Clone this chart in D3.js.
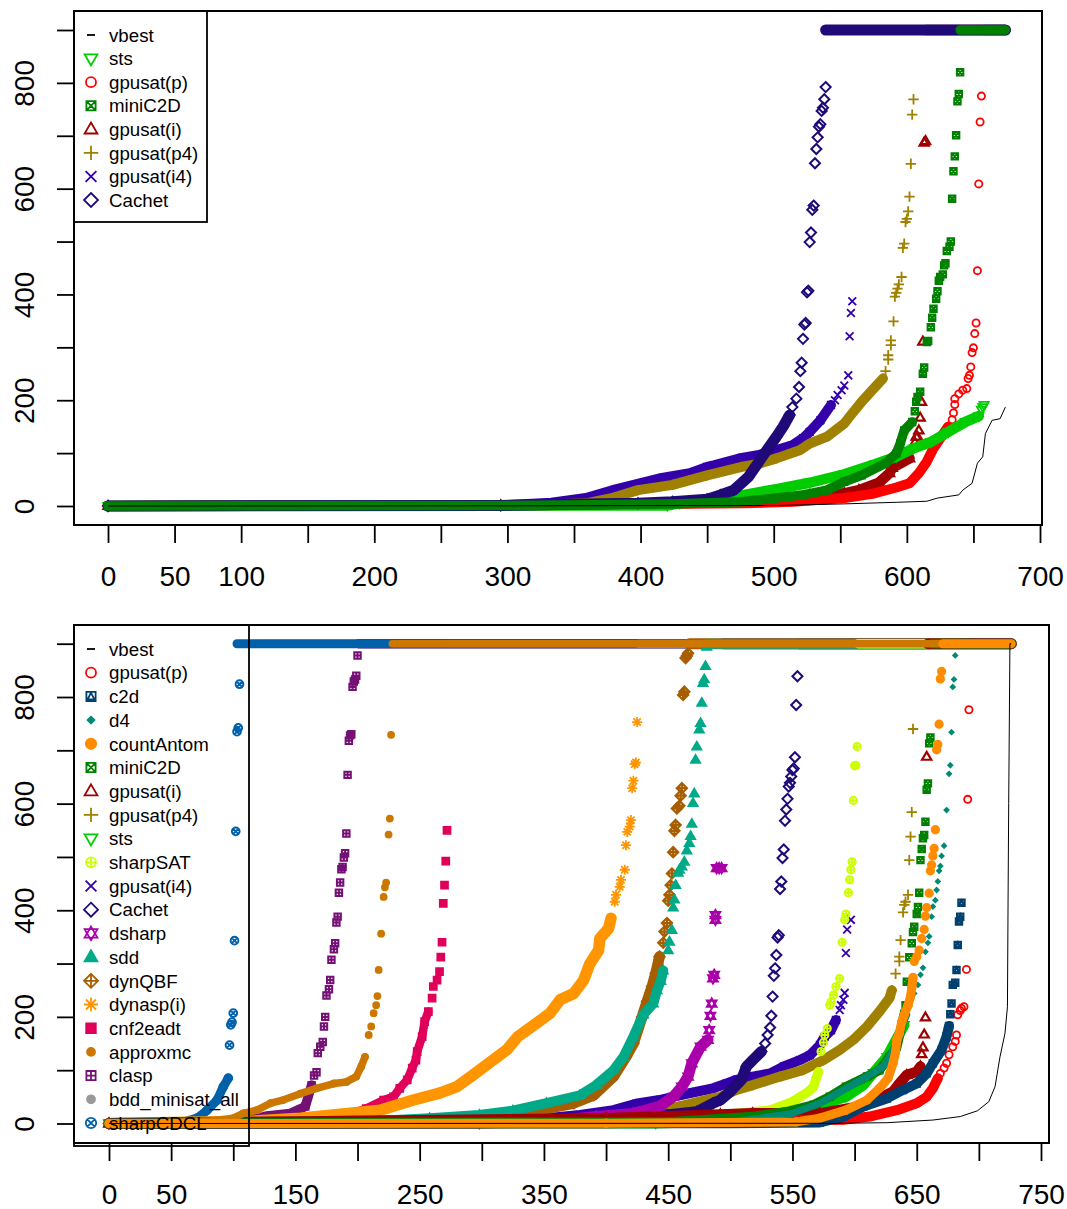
<!DOCTYPE html>
<html>
<head>
<meta charset="utf-8">
<title>Solver cactus plots</title>
<script src="https://cdn.jsdelivr.net/npm/d3@7"></script>
<style>
  html, body { margin: 0; background: #fff; }
  svg { display: block; }
  text { font-family: "Liberation Sans", Arial, sans-serif; fill: #000; }
</style>
</head>
<body>
<svg id="chart" width="1067" height="1209"></svg>
<script>
// ─── Data: [rank, seconds]; *Band = dense runs, *Pts = separately readable points ───
const topVbest = [[0,0],[300,0.3],[502,1],[553,4],[592,7],[615,9],[623,15],[639,21],[642,30],[649,43],[653,81],[657,93],[659,137],[664,162],[670,165],[674,187]];
const topStsBand = [[0,0],[420,1],[429,5],[450,12],[476,20],[502,32],[527,44],[553,60],[576,79],[592,93],[605,109],[618,121],[631,140],[644,159],[654,170]];
const topStsPts = [[656,182],[657,187],[658,191]];
const topPBand = [[0,0],[300,1],[476,5],[514,8],[553,15],[574,23],[592,35],[602,43],[609,62],[615,84],[620,109],[631,150]];
const topPPts = [[634,163],[635,176],[636,192],[636,203],[639,212],[642,219],[645,222],[646,241],[647,247],[648,263],[649,290],[650,299],[651,326],[652,346],[653,445],[654,609],[655,726],[656,775]];
const topMiniBand = [[0,0],[300,1],[424,4],[476,8],[502,15],[522,21],[540,30],[553,46],[566,58],[584,81],[592,99],[595,118],[598,143],[604,159]];
const topMiniPts = [[606,179],[607,197],[608,206],[610,216],[612,250],[613,262],[615,310],[616,312],[618,338],[619,356],[620,373],[622,392],[623,406],[624,426],[625,433],[627,438],[628,455],[629,459],[630,482],[632,490],[633,500],[634,581],[635,633],[636,661],[637,701],[638,765],[639,779],[640,820]];
const topIBand = [[0,0],[295,1],[398,4],[491,10],[527,15],[553,24],[564,30],[579,44],[587,62],[589,72],[602,90]];
const topIPts = [[606,120],[607,131],[608,131],[609,143],[610,167],[611,197],[612,311],[613,687],[614,690]];
const topP4Band = [[0,0],[320,2],[359,5],[380,16],[398,30],[424,40],[450,58],[476,74],[489,80],[502,90],[520,106],[527,118],[540,131],[553,156],[558,172],[566,197],[574,219],[582,241]];
const topP4Pts = [[584,255],[586,277],[586,285],[588,304],[588,313],[590,349],[591,396],[592,403],[593,411],[594,419],[596,433],[597,488],[598,496],[599,537],[600,543],[601,557],[602,585],[603,647],[604,740],[605,769]];
const topI4Band = [[0,0],[295,1],[333,6],[359,15],[382,32],[416,53],[437,62],[450,74],[455,77],[476,91],[488,96],[502,106],[514,115],[522,128],[527,140],[535,162],[543,191]];
const topI4Pts = [[546,200],[548,210],[551,219],[553,228],[556,247],[557,321],[558,365],[559,387]];
const topCachetBand = [[0,0],[295,1],[398,5],[424,8],[450,13],[460,21],[470,30],[481,55],[487,77],[495,106],[502,131],[507,150],[512,172]];
const topCachetPts = [[514,187],[517,203],[519,225],[520,255],[521,271],[522,316],[523,343],[524,346],[525,404],[526,407],[527,499],[528,517],[529,560],[530,568],[531,648],[532,675],[533,697],[534,717],[535,722],[536,747],[537,753],[538,769],[539,792]];
// rank where each solver starts timing out at 900 s
const topTimeoutFrom = { sts: 658, "gpusat(p)": 656, miniC2D: 640, "gpusat(i)": 614, "gpusat(p4)": 605, "gpusat(i4)": 559, Cachet: 539 };
const topLastRank = 674;

const botVbest = [[0,0],[585,0.4],[626,1.5],[663,6.5],[685,13],[699,24],[708,41],[713,69],[717,125],[721,169],[723,219],[723.5,419],[724,600],[725,900],[726,900]];
const botPBand = [[0,0],[400,0.5],[591,7],[612,13],[634,25],[650,38],[658,50],[663,66],[667,85]];
const botPPts = [[669,94],[672,104],[674,113],[676,129],[679,144],[681,154],[682,166],[683,204],[685,212],[686,216],[688,219],[690,289],[691,608],[692,776]];
const botC2dBand = [[0,0],[500,0.5],[572,2],[591,13],[607,32],[626,47],[639,63],[650,75],[658,94],[663,113],[670,138],[674,163],[676,183]];
const botC2dPts = [[677,205],[678,225],[679,260],[681,264],[682,288],[683,335],[684,379],[685,388],[686,414]];
const botD4Band = [[0,0],[500,2],[524,10],[550,19],[572,38],[591,63],[610,88],[623,107],[628,125],[634,150],[638,182],[642,204]];
const botD4Pts = [[644,219],[648,244],[651,260],[653,279],[655,292],[657,322],[659,339],[660,351],[662,388],[663,407],[665,419],[666,438],[667,454],[668,474],[669,483],[670,502],[672,521],[674,588],[676,656],[677,672],[678,734],[679,819],[680,833],[681,878]];
const botCountBand = [[0,0],[400,0.5],[553,3],[572,10],[593,25],[610,44],[620,66],[627,85],[631,113],[633,134],[634,157],[636,169],[638,191],[640,204],[643,222],[645,238],[646,254],[647,274]];
const botCountPts = [[648,304],[650,313],[652,325],[654,347],[656,364],[657,389],[658,405],[660,432],[661,474],[662,485],[663,502],[664,516],[665,551],[666,701],[667,711],[668,749],[669,834],[670,848]];
const botMiniBand = [[0,0],[450,3],[518,13],[545,22],[567,35],[580,50],[593,69],[610,88],[620,100],[628,125],[634,144],[640,206]];
const botMiniPts = [[641,222],[642,266],[644,312],[646,338],[647,359],[648,369],[650,393],[651,406],[652,433],[653,494],[654,515],[655,535],[656,541],[657,566],[658,626],[659,638],[660,713],[661,724]];
const botIBand = [[0,0],[400,10],[492,17],[518,19],[572,19],[604,32],[620,47],[631,60],[636,75],[642,91],[650,97],[653,107]];
const botIPts = [[654,130],[655,143],[656,167],[657,199],[658,688]];
const botP4Band = [[0,0],[352,6],[406,13],[446,25],[459,32],[486,47],[492,50],[505,63],[518,72],[540,88],[558,100],[575,119],[588,138],[599,157],[610,182],[620,210],[628,235],[630,250]];
const botP4Pts = [[633,281],[636,304],[636,313],[637,344],[639,396],[640,410],[641,416],[643,429],[644,494],[645,538],[646,584],[647,740]];
const botStsBand = [[0,0],[440,0.5],[505,5],[553,20],[593,50],[607,72],[615,95],[626,125],[640,185]];
const botStsPts = [];
const botSharpSatBand = [[0,0],[379,6],[459,10],[492,16],[505,19],[532,25],[550,41],[563,60],[567,69],[569,85],[571,97]];
const botSharpSatPts = [[573,135],[575,152],[576,166],[578,178],[580,222],[581,228],[583,241],[585,257],[588,272],[590,340],[592,382],[593,393],[595,433],[596,457],[597,476],[598,491],[599,606],[600,671],[601,672],[602,707]];
const botI4Band = [[0,0],[300,3],[352,10],[379,16],[406,25],[424,37],[443,44],[459,53],[486,66],[497,75],[505,82],[518,88],[532,94],[543,107],[556,119],[564,128],[572,147],[576,163],[581,175],[585,194]];
const botI4Pts = [[588,213],[589,222],[591,232],[592,245],[593,320],[594,364],[597,382]];
const botCachetBand = [[0,0],[300,3],[379,10],[449,16],[473,22],[486,38],[492,44],[500,60],[509,82],[513,107],[518,119],[525,135]];
const botCachetPts = [[528,150],[530,166],[532,180],[533,202],[534,238],[535,277],[536,291],[537,316],[538,349],[539,353],[540,440],[541,454],[542,498],[543,514],[544,568],[545,589],[546,609],[547,632],[548,639],[549,651],[550,663],[551,666],[552,687],[553,785],[554,839]];
const botDsharpBand = [[0,0],[298,1],[352,4],[392,13],[422,19],[443,32],[454,50],[461,69],[466,88],[469,113],[476,144],[482,157]];
const botDsharpPts = [[483,175],[484,202],[485,225],[486,272],[487,279],[488,382],[488,391],[489,479],[491,479],[493,479]];
const botSddBand = [[0,0],[113,1],[218,5],[258,10],[298,16],[325,24],[352,38],[379,53],[392,72],[406,100],[414,125],[422,163],[430,204],[438,225],[441,250],[444,267],[446,287]];
const botSddPts = [[450,325],[451,341],[453,363],[454,405],[455,420],[456,447],[458,470],[459,476],[461,482],[463,491],[465,512],[467,526],[468,539],[469,562],[470,601],[471,619],[472,682],[473,707],[475,739],[476,751],[477,789],[478,826],[479,833],[480,858],[481,894]];
const botDynqbfBand = [[0,0],[272,6],[298,10],[325,18],[352,28],[374,38],[390,53],[406,88],[416,125],[422,150],[429,200],[433,229],[437,257],[440,282],[443,313]];
const botDynqbfPts = [[446,339],[447,360],[449,376],[450,418],[451,429],[452,447],[453,469],[454,509],[455,549],[456,560],[457,591],[459,596],[460,615],[461,629],[462,804],[463,810],[464,873],[465,877],[466,882]];
const botDynaspBand = [[0,0],[113,4],[154,10],[218,25],[245,44],[266,57],[280,69],[293,91],[309,119],[320,138],[329,163],[344,188],[355,207],[363,232],[374,244],[382,269],[387,300],[394,325],[395,347],[402,366],[404,385]];
const botDynaspPts = [[407,416],[408,429],[411,444],[412,457],[415,476],[416,522],[417,547],[419,557],[420,569],[421,629],[422,643],[423,674],[424,677],[425,753]];
const botCnfBand = [[0,0],[150,3],[189,13],[207,28],[221,44],[229,50],[234,66],[240,82],[244,104],[247,119],[248,135],[252,163],[254,191],[257,210]];
const botCnfPts = [[260,235],[261,257],[264,269],[266,285],[267,312],[268,340],[269,413],[270,447],[271,492],[272,550]];
const botApproxBand = [[0,0],[33,0.3],[84,5],[100,10],[108,19],[119,25],[130,38],[140,44],[154,56],[167,66],[181,75],[191,78],[199,88],[203,107],[206,125]];
const botApproxPts = [[209,166],[211,182],[213,207],[215,222],[216,239],[217,288],[219,356],[221,425],[222,443],[223,452],[225,542],[226,572],[227,729]];
const botClaspBand = [[0,0],[100,5],[119,10],[127,14],[146,19],[158,32],[163,72]];
const botClaspPts = [[165,90],[167,96],[168,132],[170,144],[172,153],[173,182],[174,200],[175,240],[177,252],[178,269],[179,307],[181,327],[182,338],[183,377],[184,388],[185,433],[186,452],[187,477],[188,481],[189,499],[190,507],[191,544],[192,654],[193,718],[194,728],[195,730],[196,819],[197,829],[198,833],[199,840],[200,878]];
const botBddBand = [[0,0],[80,2],[100,5],[110,10],[118,15]];
const botCdclBand = [[0,0],[60,3],[71,10],[79,25],[87,44],[92,69],[96,85]];
const botCdclPts = [[97,147],[98,185],[99,190],[100,207],[101,343],[102,548],[103,735],[104,742],[105,824]];
const botTimeoutFrom = { "gpusat(p)": 693, c2d: 687, d4: 682, countAntom: 671, miniC2D: 662, "gpusat(i)": 659, "gpusat(p4)": 648, sts: 665, sharpSAT: 603, "gpusat(i4)": 598, Cachet: 555, dsharp: 494, sdd: 482, dynQBF: 467, "dynasp(i)": 426, cnf2eadt: 273, approxmc: 228, clasp: 201, bdd_minisat_all: 119, sharpCDCL: 103 };
const botLastRank = 726;

const topLegendNames = ["vbest", "sts", "gpusat(p)", "miniC2D", "gpusat(i)", "gpusat(p4)", "gpusat(i4)", "Cachet"];
const botLegendNames = ["vbest", "gpusat(p)", "c2d", "d4", "countAntom", "miniC2D", "gpusat(i)", "gpusat(p4)", "sts", "sharpSAT", "gpusat(i4)", "Cachet", "dsharp", "sdd", "dynQBF", "dynasp(i)", "cnf2eadt", "approxmc", "clasp", "bdd_minisat_all", "sharpCDCL"];

const topXTicks = d3.range(0, 701, 50);
const topXLabels = [0, 50, 100, 200, 300, 400, 500, 600, 700];
const botXTicks = d3.range(0, 751, 50);
const botXLabels = [0, 50, 150, 250, 350, 450, 550, 650, 750];
const yTicks = d3.range(0, 901, 100);
const yLabels = [0, 200, 400, 600, 800];

// ─── Marker shapes, drawn around 0,0 at legend size k=1 ─────────
const ln = (p, x1, y1, x2, y2) => { p.moveTo(x1, y1); p.lineTo(x2, y2); };
const ring = (p, r) => { p.moveTo(r, 0); p.arc(0, 0, r, 0, 2 * Math.PI); };
const poly = (p, pts) => { p.moveTo(...pts[0]); pts.slice(1).forEach((q) => p.lineTo(...q)); p.closePath(); };
const box = (p, r) => p.rect(-r, -r, 2 * r, 2 * r);
const dia = (p, r) => poly(p, [[0, -r], [r, 0], [0, r], [-r, 0]]);
const triUp = (p, k) => poly(p, [[0, -6.8 * k], [6.4 * k, 4.2 * k], [-6.4 * k, 4.2 * k]]);
const triDown = (p, k) => poly(p, [[0, 6.8 * k], [6.4 * k, -4.2 * k], [-6.4 * k, -4.2 * k]]);
const plus = (p, r) => { ln(p, -r, 0, r, 0); ln(p, 0, -r, 0, r); };
const cross = (p, r) => { ln(p, -r, -r, r, r); ln(p, -r, r, r, -r); };

const shapes = {
  dash: (p, k) => ln(p, -4 * k, 0, 4 * k, 0),
  circle: (p, k) => ring(p, 5 * k),
  triDown,
  triUp,
  squareX: (p, k) => { box(p, 4.6 * k); cross(p, 4.6 * k); },
  plus: (p, k) => plus(p, 7.2 * k),
  cross: (p, k) => cross(p, 5.4 * k),
  diamond: (p, k) => dia(p, 7 * k),
  squareTri: (p, k) => { box(p, 4.6 * k); poly(p, [[0, -3.6 * k], [3.4 * k, 3 * k], [-3.4 * k, 3 * k]]); },
  smallDiamond: (p, k) => dia(p, 3.4 * k),
  disc: (p, k) => ring(p, 5.2 * k),
  circlePlus: (p, k) => { ring(p, 5 * k); plus(p, 5 * k); },
  david: (p, k) => { triUp(p, k); triDown(p, k); },
  diamondPlus: (p, k) => { dia(p, 7 * k); plus(p, 7 * k); },
  star: (p, k) => { plus(p, 7 * k); cross(p, 5 * k); },
  filledSquare: (p, k) => box(p, 4.8 * k),
  smallDisc: (p, k) => ring(p, 4 * k),
  squarePlus: (p, k) => { box(p, 4.6 * k); plus(p, 4.6 * k); },
  circleX: (p, k) => { ring(p, 5.2 * k); cross(p, 3.7 * k); },
};

// color, shape, filled or not, band width in pixels, marker scale and stroke in the plot
const styles = {
  vbest: { color: "#000", shape: "dash" },
  sts: { color: "#00cc00", shape: "triDown", band: 10.5 },
  "gpusat(p)": { color: "#ff0000", shape: "circle", band: 10 },
  miniC2D: { color: "#008000", shape: "squareX", band: 9.5, k: 0.7, sw: 2 },
  "gpusat(i)": { color: "#a00000", shape: "triUp", band: 10.5, sw: 2.2 },
  "gpusat(p4)": { color: "#a08000", shape: "plus", band: 10 },
  "gpusat(i4)": { color: "#3300aa", shape: "cross", band: 10 },
  Cachet: { color: "#200a78", shape: "diamond", band: 11, sw: 2 },
  c2d: { color: "#004070", shape: "squareTri", band: 10, k: 0.68, sw: 2.2 },
  d4: { color: "#008a74", shape: "smallDiamond", filled: true, band: 7, k: 0.62 },
  countAntom: { color: "#ff8c00", shape: "disc", filled: true, band: 9 },
  sharpSAT: { color: "#ccff00", shape: "circlePlus", band: 9.5, k: 0.72, sw: 2 },
  dsharp: { color: "#aa00aa", shape: "david", band: 11, sw: 2.2 },
  sdd: { color: "#00aa88", shape: "triUp", filled: true, band: 10 },
  dynQBF: { color: "#a65e00", shape: "diamondPlus", band: 11, sw: 2.2 },
  "dynasp(i)": { color: "#ff9500", shape: "star", band: 11.5, timeoutBand: 8 },
  cnf2eadt: { color: "#e0005a", shape: "filledSquare", filled: true, band: 8.5 },
  approxmc: { color: "#cc7700", shape: "smallDisc", filled: true, band: 7.5, k: 0.75 },
  clasp: { color: "#751075", shape: "squarePlus", band: 9.5, k: 0.7, sw: 2 },
  bdd_minisat_all: { color: "#999999", shape: "smallDisc", filled: true, band: 8, k: 0.85 },
  sharpCDCL: { color: "#0060aa", shape: "circleX", band: 9, k: 0.74, sw: 2 },
};

const plotK = 0.72;
const markerPath = (name, k) => {
  const p = d3.path();
  shapes[styles[name].shape](p, k);
  return p.toString();
};

// ─── Draw-order tables (last is on top) ─────────────────────────
const topSeries = [
  ["gpusat(i4)", topI4Band, topI4Pts],
  ["gpusat(p4)", topP4Band, topP4Pts],
  ["gpusat(i)", topIBand, topIPts],
  ["gpusat(p)", topPBand, topPPts],
  ["sts", topStsBand, topStsPts],
  ["Cachet", topCachetBand, topCachetPts],
  ["miniC2D", topMiniBand, topMiniPts],
];
const botSeries = [
  ["bdd_minisat_all", botBddBand, []],
  ["clasp", botClaspBand, botClaspPts],
  ["sharpCDCL", botCdclBand, botCdclPts],
  ["cnf2eadt", botCnfBand, botCnfPts],
  ["gpusat(i4)", botI4Band, botI4Pts],
  ["gpusat(p4)", botP4Band, botP4Pts],
  ["Cachet", botCachetBand, botCachetPts],
  ["dynasp(i)", botDynaspBand, botDynaspPts],
  ["dsharp", botDsharpBand, botDsharpPts],
  ["dynQBF", botDynqbfBand, botDynqbfPts],
  ["sdd", botSddBand, botSddPts],
  ["sharpSAT", botSharpSatBand, botSharpSatPts],
  ["sts", botStsBand, botStsPts],
  ["gpusat(i)", botIBand, botIPts],
  ["gpusat(p)", botPBand, botPPts],
  ["c2d", botC2dBand, botC2dPts],
  ["miniC2D", botMiniBand, botMiniPts],
  ["d4", botD4Band, botD4Pts],
  ["approxmc", botApproxBand, botApproxPts],
  ["countAntom", botCountBand, botCountPts],
];

// ─── Panel ──────────────────────────────────────────────────────
const svg = d3.select("#chart");

function drawPanel(o) {
  const x = d3.scaleLinear().domain([0, o.xMax]).range(o.xRange);
  const y = d3.scaleLinear().domain([0, 900]).range(o.yRange);
  const g = svg.append("g");
  const line = d3.line().x((d) => x(d[0])).y((d) => y(d[1]));

  o.series.forEach(([name, band, pts]) => {
    const st = styles[name];
    const s = g.append("g").attr("stroke", st.color).attr("fill", "none");
    const thick = (data, w) => s.append("path").attr("d", line(data))
      .attr("stroke-width", w)
      .attr("stroke-linecap", "round").attr("stroke-linejoin", "round");
    thick(band, st.band);
    if (o.timeoutFrom[name] != null) {
      thick([[o.timeoutFrom[name], 900], [o.lastRank, 900]], st.timeoutBand || st.band);
    }

    s.selectAll(".pt")
      .data(band.concat(pts))
      .join("path")
      .attr("class", "pt")
      .attr("d", markerPath(name, st.k || plotK))
      .attr("transform", (d) => `translate(${x(d[0])},${y(d[1])})`)
      .attr("fill", st.filled ? st.color : "none")
      .attr("stroke-width", st.sw || 1.8);
  });

  g.append("path").attr("d", line(o.vbest))
    .attr("fill", "none").attr("stroke", "#000").attr("stroke-width", 1);

  // box
  g.append("rect")
    .attr("x", o.box[0]).attr("y", o.box[1])
    .attr("width", o.box[2] - o.box[0]).attr("height", o.box[3] - o.box[1])
    .attr("fill", "none").attr("stroke", "#000").attr("stroke-width", 2);

  // axes
  const ax = g.append("g")
    .attr("transform", `translate(0,${o.box[3]})`)
    .call(d3.axisBottom(x).tickValues(o.xTicks).tickSize(18).tickPadding(23)
      .tickFormat((d) => (o.xLabels.includes(d) ? d : "")));
  const ay = g.append("g")
    .attr("transform", `translate(${o.box[0]},0)`)
    .call(d3.axisLeft(y).tickValues(yTicks).tickSize(17)
      .tickFormat((d) => (yLabels.includes(d) ? d : "")));
  [ax, ay].forEach((a) => {
    a.select(".domain").remove();
    a.selectAll("line").attr("stroke", "#000").attr("stroke-width", 1.8);
    a.selectAll("text").attr("font-size", 28).attr("font-family", "Liberation Sans, Arial, sans-serif").attr("fill", "#000");
  });
  ay.selectAll("text")
    .attr("x", 0).attr("y", -40).attr("dy", 0)
    .attr("text-anchor", "middle")
    .attr("transform", "rotate(-90)");

  // legend, transparent, over the points
  const lg = g.append("g");
  lg.append("rect")
    .attr("x", o.box[0]).attr("y", o.box[1])
    .attr("width", o.legendRight - o.box[0]).attr("height", o.legendBottom - o.box[1])
    .attr("fill", "none").attr("stroke", "#000").attr("stroke-width", 1.8);
  const row = lg.selectAll(".row").data(o.legendNames).join("g")
    .attr("transform", (d, i) => `translate(0,${o.legendY + i * o.legendStep})`);
  row.append("path")
    .attr("d", (d) => markerPath(d, 1))
    .attr("transform", "translate(91,0)")
    .attr("stroke", (d) => styles[d].color)
    .attr("stroke-width", 1.8)
    .attr("fill", (d) => (styles[d].filled ? styles[d].color : "none"));
  row.append("text")
    .attr("x", 109).attr("dy", "0.36em")
    .attr("font-size", 18.7)
    .text((d) => d);
}

drawPanel({
  series: topSeries, vbest: topVbest, timeoutFrom: topTimeoutFrom, lastRank: topLastRank,
  xMax: 700, xRange: [108, 1040], yRange: [506, 30],
  box: [74, 11, 1042, 525], xTicks: topXTicks, xLabels: topXLabels,
  legendNames: topLegendNames, legendY: 35, legendStep: 23.57, legendRight: 207, legendBottom: 222,
});
drawPanel({
  series: botSeries, vbest: botVbest, timeoutFrom: botTimeoutFrom, lastRank: botLastRank,
  xMax: 750, xRange: [109, 1041], yRange: [1123.5, 643.7],
  box: [74, 625, 1049, 1143], xTicks: botXTicks, xLabels: botXLabels,
  legendNames: botLegendNames, legendY: 649, legendStep: 23.7, legendRight: 249, legendBottom: 1146,
});
</script>
</body>
</html>
